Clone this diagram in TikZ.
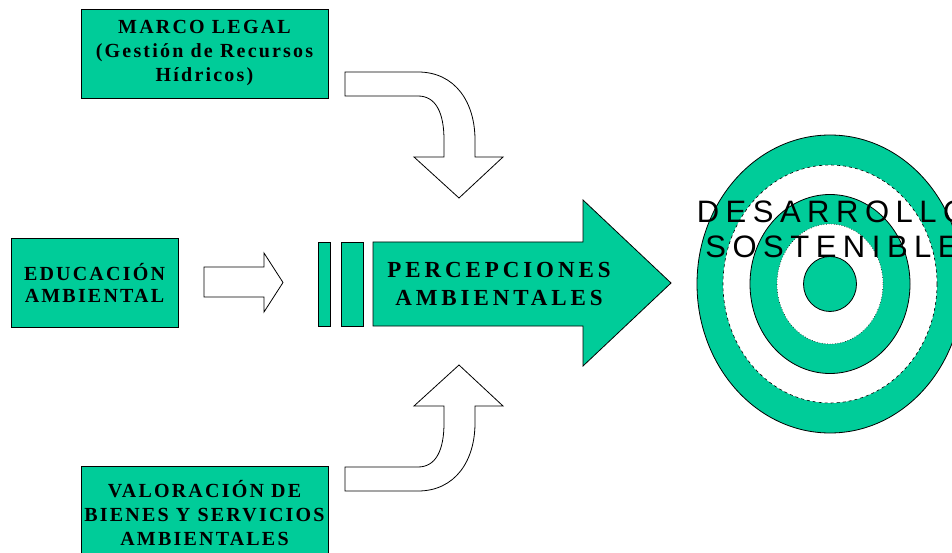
\documentclass[tikz,border=0pt]{standalone}
\usepackage{fontspec}
\usepackage{tikz}
\usetikzlibrary{positioning}
\newfontfamily\boxfont[LetterSpace=11]{Liberation Serif}
\newfontfamily\arrowfont[LetterSpace=17]{Liberation Serif}
\newfontfamily\goalfont[LetterSpace=21]{Liberation Sans}
\definecolor{teal}{HTML}{00CC99}

\begin{document}
\begin{tikzpicture}[
    x=1pt, y=-1pt,
    line width=0.8pt,
    box/.style={
      draw=black,
      fill=teal,
      align=center,
      inner sep=0pt,
      font=\boxfont\bfseries\fontsize{20}{24}\selectfont,
    },
    blockarrow/.style={
      draw=black,
      fill=white,
    },
    greenshape/.style={
      draw=black,
      fill=teal,
    },
    ]
    \useasboundingbox (0,0) rectangle (952,553);

    % input boxes
    \node[box, minimum width=247pt, minimum height=89pt] (legal) at (204.5,53.5) {
      MARCO LEGAL\\(Gestión de Recursos\\Hídricos)
    };
    \node[box, minimum width=167pt, minimum height=89pt,
      font=\boxfont\bfseries\fontsize{20}{22}\selectfont] (educ) at (94.5,282.5) {
      EDUCACIÓN\\AMBIENTAL
    };
    \node[box, minimum width=247pt, minimum height=94pt] (valor) at (204.5,513) {
      VALORACIÓN DE\\BIENES Y SERVICIOS\\AMBIENTALES
    };

    % bent arrows
    \draw[blockarrow] (345,72) -- (418,72)
      .. controls (455,72) and (475,102) .. (475,140) -- (475,157)
      -- (503,157) -- (459,198) -- (414,157) -- (444,157) -- (444,140)
      .. controls (444,113) and (436,96) .. (418,96) -- (345,96) -- cycle;
    \draw[blockarrow] (345,491) -- (418,491)
      .. controls (455,491) and (475,461) .. (475,423) -- (475,406)
      -- (503,406) -- (459,365) -- (414,406) -- (444,406) -- (444,423)
      .. controls (444,450) and (436,467) .. (418,467) -- (345,467) -- cycle;
    \draw[blockarrow] (204,267) -- (264,267) -- (264,253) -- (283,282.5)
      -- (264,312) -- (264,297) -- (204,297) -- cycle;

    % central arrow
    \draw[greenshape] (318,242) rectangle (330,326);
    \draw[greenshape] (341,242) rectangle (363,326);
    \draw[greenshape] (373,242) -- (583,242) -- (583,200) -- (671,283)
      -- (583,366) -- (583,326) -- (373,326) -- cycle;
    \node[align=center, inner sep=0pt,
      font=\arrowfont\bfseries\fontsize{23}{28}\selectfont] (percep) at (499,284) {
      PERCEPCIONES\\AMBIENTALES
    };

    % target
    \draw[greenshape] (830,284) ellipse [x radius=133, y radius=149];
    \draw[fill=white, dashed, line width=0.6pt] (830,284) ellipse [x radius=107, y radius=119];
    \draw[greenshape] (830,284) ellipse [x radius=80, y radius=89.5];
    \draw[fill=white, dotted, line width=0.6pt] (830,284) ellipse [x radius=53, y radius=60];
    \draw[greenshape] (830,284) ellipse [x radius=26.5, y radius=27.5];
    \node[align=center, inner sep=0pt,
      font=\goalfont\fontsize{31}{35}\selectfont] (goal) at (832,229) {
      DESARROLLO\\SOSTENIBLE
    };
  \end{tikzpicture}
\end{document}
